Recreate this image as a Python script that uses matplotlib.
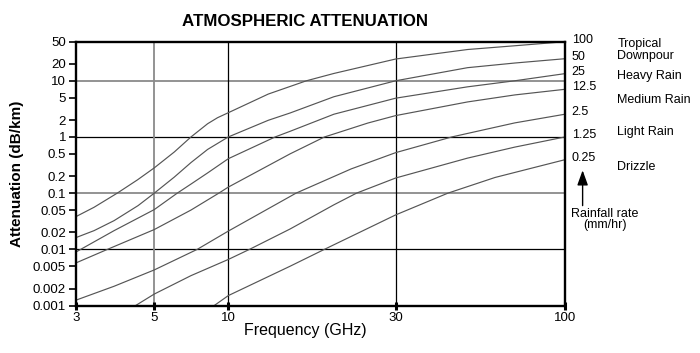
# Atmospheric attenuation vs frequency for several rain rates

import numpy as np
import matplotlib
matplotlib.use('Agg')
import matplotlib.pyplot as plt
from matplotlib.ticker import FixedLocator, NullLocator
from matplotlib.transforms import blended_transform_factory

plt.rcParams['font.family'] = ['Liberation Sans', 'DejaVu Sans']

# curves (frequency in GHz, attenuation in dB/km)
rain_labels = ['100', '50', '25', '12.5', '2.5', '1.25', '0.25']

f_100 = [3, 3.38, 3.93, 4.48, 5, 6.03, 7.05, 8.24, 9.04, 10, 13, 16.7, 20, 30, 50, 70, 100]
a_100 = [0.038, 0.056, 0.1, 0.172, 0.282, 0.54, 1.0, 1.72, 2.2, 2.7, 5.8, 10, 13.5, 24.4, 36, 42, 49.6]

f_50 = [3, 3.38, 3.85, 4.5, 5, 6.03, 7.05, 8.24, 10, 13, 15, 20, 30, 50, 70, 100]
a_50 = [0.0161, 0.0215, 0.0324, 0.06, 0.1, 0.193, 0.35, 0.6, 1.0, 1.98, 2.67, 5.2, 10.0, 17.1, 20.7, 24.7]

f_25 = [3, 3.85, 5, 6.2, 7.05, 8.24, 10, 13.6, 15, 20, 30, 50, 70, 100]
a_25 = [0.0089, 0.0215, 0.051, 0.1, 0.145, 0.229, 0.41, 1.0, 1.26, 2.54, 4.9, 7.8, 10.0, 13.4]

f_12 = [3, 3.69, 5, 7.05, 9.15, 10, 15, 18.8, 20, 25, 30, 50, 70, 100]
a_12 = [0.0057, 0.01, 0.0225, 0.05, 0.1, 0.128, 0.5, 1.0, 1.13, 1.77, 2.4, 4.2, 5.6, 7.05]

f_2 = [3, 3.85, 5, 7.48, 10, 15.6, 22.4, 30, 44.7, 70, 100]
a_2 = [0.00124, 0.0022, 0.0043, 0.01, 0.0211, 0.1, 0.27, 0.526, 1.0, 1.78, 2.54]

f_1 = [4.43, 5, 7.05, 10, 11.5, 15, 20, 23.2, 30, 50, 70, 100]
a_1 = [0.001, 0.0016, 0.0034, 0.0066, 0.01, 0.023, 0.062, 0.1, 0.186, 0.42, 0.66, 1.0]

f_q = [8.77, 10, 15, 18.8, 30, 43.5, 60.8, 100]
a_q = [0.001, 0.0015, 0.005, 0.01, 0.041, 0.1, 0.19, 0.394]

x_ticks = [3, 5, 10, 30, 100]
y_ticks = [50, 20, 10, 5, 2, 1, 0.5, 0.2, 0.1, 0.05, 0.02, 0.01, 0.005, 0.002, 0.001]
y_ticklabels = ['50', '20', '10', '5', '2', '1', '0.5', '0.2', '0.1', '0.05', '0.02',
                '0.01', '0.005', '0.002', '0.001']
grid_black_y = [1, 0.01]
grid_grey_y = [10, 0.1]
grid_black_x = [10, 30]
grid_grey_x = [5]

categories = ['Tropical\nDownpour', 'Heavy Rain', 'Medium Rain', 'Light Rain', 'Drizzle']
category_y = [35, 12.3, 4.6, 1.24, 0.29]

# the printed frequency axis is not a clean log scale, decades are stretched
# unevenly, so map log10(f) piecewise onto the drawn positions
_lx = np.log10([3, 5, 10, 30, 100])
_px = np.array([0, 78.6, 152.6, 320.0, 489.3])
_lx = np.concatenate([[-6], _lx, [6]])
_px = np.concatenate([[_px[1] / (_lx[2] - _lx[1]) * (-6 - _lx[1])], _px,
                      [_px[-1] + (_px[-1] - _px[-2]) / (_lx[-2] - _lx[-3]) * (6 - _lx[-2])]])


def fwd(x):
    x = np.clip(np.asarray(x, dtype=float), 1e-6, None)
    return np.interp(np.log10(x), _lx, _px)


def inv(p):
    return 10 ** np.interp(np.asarray(p, dtype=float), _px, _lx)


fig = plt.figure(figsize=(7, 3.53), dpi=100)
ax = fig.add_axes([75.7 / 700, 1 - 305.5 / 353, 489.3 / 700, 264 / 353])
ax.set_xscale('function', functions=(fwd, inv))
ax.set_yscale('log')
ax.set_xlim(3, 100)
ax.set_ylim(0.001, 50)

# grid lines
for v in grid_black_y:
    ax.axhline(v, color='black', lw=0.9, zorder=1)
for v in grid_grey_y:
    ax.axhline(v, color='#8a8a8a', lw=1.3, zorder=1)
for v in grid_black_x:
    ax.axvline(v, color='black', lw=0.9, zorder=1)
for v in grid_grey_x:
    ax.axvline(v, color='#8a8a8a', lw=1.3, zorder=1)

freqs = [f_100, f_50, f_25, f_12, f_2, f_1, f_q]
atts = [a_100, a_50, a_25, a_12, a_2, a_1, a_q]
for f, a in zip(freqs, atts):
    ax.plot(f, a, color='#555555', lw=0.85, zorder=2)

# ticks
ax.xaxis.set_major_locator(FixedLocator(x_ticks))
ax.xaxis.set_minor_locator(NullLocator())
ax.set_xticklabels([str(t) for t in x_ticks])
ax.yaxis.set_major_locator(FixedLocator(y_ticks))
ax.yaxis.set_minor_locator(NullLocator())
ax.set_yticklabels(y_ticklabels)
ax.tick_params(axis='y', direction='out', length=5, width=1.2, pad=2, labelsize=9.5)
ax.tick_params(axis='x', direction='inout', length=6, width=2.2, pad=2, labelsize=9.5)
for s in ax.spines.values():
    s.set_linewidth(1.7)

# rain rate numbers at the curve ends
for lbl, a in zip(rain_labels, atts):
    ax.annotate(lbl, xy=(1, a[-1]), xycoords=('axes fraction', 'data'),
                xytext=(4.8, 1.5), textcoords='offset points',
                ha='left', va='center', fontsize=9)

trans = blended_transform_factory(ax.transAxes, ax.transData)
for txt, y in zip(categories, category_y):
    ax.text(1.107, y, txt, transform=trans, ha='left', va='center',
            fontsize=9, linespacing=0.95)

ax.annotate('', xy=(1.036, 0.255), xytext=(1.036, 0.06),
            xycoords=trans, textcoords=trans,
            arrowprops=dict(arrowstyle='-|>,head_length=0.75,head_width=0.27',
                            color='black', lw=1, mutation_scale=12,
                            shrinkA=0, shrinkB=0))
ax.text(1.082, 0.034, 'Rainfall rate\n(mm/hr)', transform=trans, ha='center',
        va='center', fontsize=9, linespacing=0.95, multialignment='center')

fig.text(305.5 / 700, 1 - 22 / 353, 'ATMOSPHERIC ATTENUATION', ha='center',
         va='center', fontsize=12.2, fontweight='bold')
fig.text(305 / 700, 1 - 331 / 353, 'Frequency (GHz)', ha='center', va='center',
         fontsize=11.5)
fig.text(17 / 700, 1 - 174 / 353, 'Attenuation (dB/km)', ha='center', va='center',
         rotation=90, fontsize=11, fontweight='bold')

fig.savefig('out.png', dpi=100)
